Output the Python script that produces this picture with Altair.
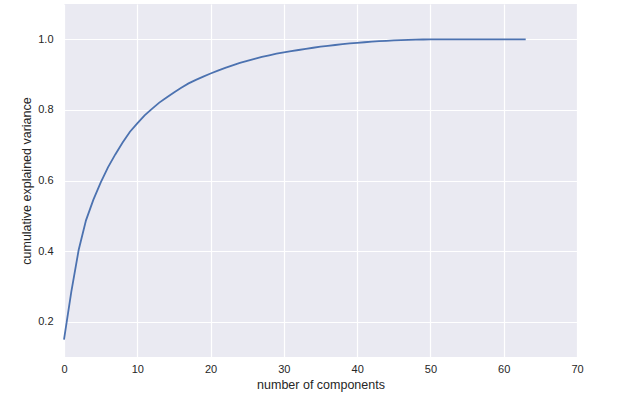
import altair as alt
import pandas as pd

components = list(range(64))
cumulative_variance = [
    0.1489, 0.2851, 0.4030, 0.4871, 0.5450, 0.5941, 0.6373, 0.6739, 0.7074, 0.7382,
    0.7619, 0.7847, 0.8029, 0.8206, 0.8353, 0.8494, 0.8626, 0.8751, 0.8852, 0.8943,
    0.9032, 0.9112, 0.9188, 0.9261, 0.9330, 0.9390, 0.9447, 0.9499, 0.9548, 0.9591,
    0.9628, 0.9663, 0.9697, 0.9730, 0.9761, 0.9790, 0.9816, 0.9839, 0.9861, 0.9882,
    0.9901, 0.9917, 0.9932, 0.9946, 0.9958, 0.9968, 0.9978, 0.9986, 0.9991, 0.9995,
    0.9997, 0.9998, 0.9998, 0.9999, 0.9999, 1.0000, 1.0000, 1.0000, 1.0000, 1.0000,
    1.0000, 1.0000, 1.0000, 1.0000,
]
x_ticks = [0, 10, 20, 30, 40, 50, 60, 70]
y_ticks = [0.2, 0.4, 0.6, 0.8, 1.0]

df = pd.DataFrame({"n": components, "v": cumulative_variance})

FONT = "Liberation Sans"
chart = (
    alt.Chart(df)
    .mark_line(color="#4C72B0", strokeWidth=1.8)
    .encode(
        x=alt.X(
            "n:Q",
            scale=alt.Scale(domain=[0, 70], nice=False, zero=False),
            axis=alt.Axis(
                values=x_ticks,
                title="number of components",
                labelPadding=6,
                titlePadding=4,
                labelFlush=False,
            ),
        ),
        y=alt.Y(
            "v:Q",
            scale=alt.Scale(domain=[0.1, 1.1], nice=False, zero=False),
            axis=alt.Axis(
                values=y_ticks,
                format=".1f",
                title="cumulative explained variance",
                labelPadding=11,
                titlePadding=4,
                labelFlush=False,
            ),
        ),
    )
    .properties(
        width=513,
        height=353,
        autosize=alt.AutoSizeParams(type="none"),
        padding={"left": 64, "top": 4, "right": 67, "bottom": 39},
        background="white",
    )
    .configure_view(fill="#EAEAF2", stroke=None)
    .configure_axis(
        grid=True,
        gridColor="white",
        gridWidth=1.2,
        domain=False,
        ticks=False,
        labelFont=FONT,
        labelFontSize=11,
        labelColor="#262626",
        titleFont=FONT,
        titleFontSize=12.5,
        titleFontWeight="normal",
        titleColor="#262626",
    )
)

chart.save("out.html", embed_options={"renderer": "svg", "actions": False})
